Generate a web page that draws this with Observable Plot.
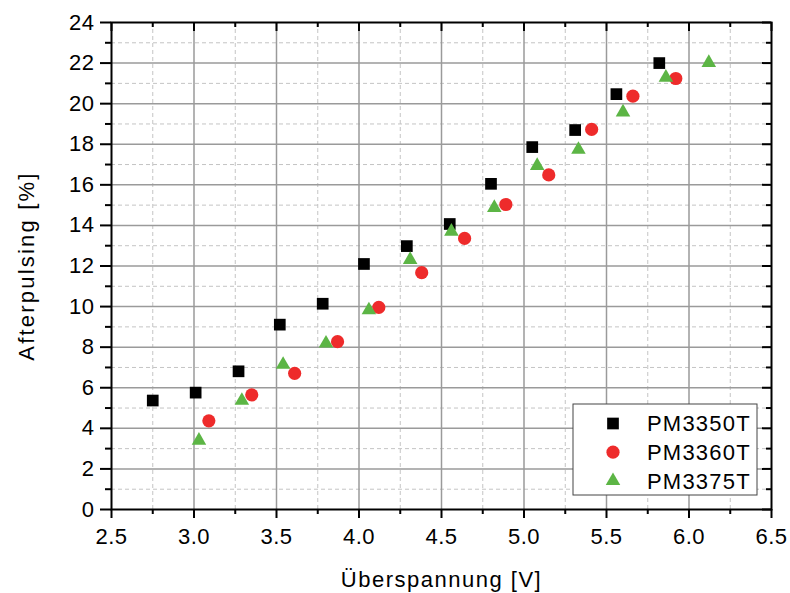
<!DOCTYPE html>
<html>
<head>
<meta charset="utf-8">
<script src="https://cdn.jsdelivr.net/npm/d3@7"></script>
<script src="https://cdn.jsdelivr.net/npm/@observablehq/plot@0.6"></script>
<style>
  html, body { margin: 0; padding: 0; background: #fff; }
  svg { font-family: "Liberation Sans", Arial, sans-serif; }
</style>
</head>
<body>
<div id="chart"></div>
<script>
const seriesNames = ["PM3350T", "PM3360T", "PM3375T"];
const seriesColors = ["#000000", "#ee2b2b", "#5cb545"];
const seriesSymbols = ["square", "circle", "triangle"];

const x3350 = [2.75, 3.01, 3.27, 3.52, 3.78, 4.03, 4.29, 4.55, 4.80, 5.05, 5.31, 5.56, 5.82];
const y3350 = [5.37, 5.76, 6.81, 9.11, 10.14, 12.10, 12.98, 14.07, 16.05, 17.86, 18.70, 20.47, 22.00];

const x3360 = [3.09, 3.35, 3.61, 3.87, 4.12, 4.38, 4.64, 4.89, 5.15, 5.41, 5.66, 5.92];
const y3360 = [4.37, 5.65, 6.71, 8.27, 9.96, 11.67, 13.36, 15.03, 16.49, 18.73, 20.37, 21.24];

const x3375 = [3.03, 3.29, 3.54, 3.80, 4.06, 4.31, 4.56, 4.82, 5.08, 5.33, 5.60, 5.86, 6.12];
const y3375 = [3.40, 5.37, 7.14, 8.19, 9.83, 12.31, 13.70, 14.87, 16.94, 17.74, 19.58, 21.29, 22.02];

const xMajor = [2.5, 3.0, 3.5, 4.0, 4.5, 5.0, 5.5, 6.0, 6.5];
const xMinor = [2.75, 3.25, 3.75, 4.25, 4.75, 5.25, 5.75, 6.25];
const yMajor = [0, 2, 4, 6, 8, 10, 12, 14, 16, 18, 20, 22, 24];
const yMinor = [1, 3, 5, 7, 9, 11, 13, 15, 17, 19, 21, 23];

const xLabel = "Überspannung [V]";
const yLabel = "Afterpulsing [%]";

const W = 790, H = 593;
const mL = 111, mR = 19, mT = 22, mB = 84;
const plotW = W - mL - mR, plotH = H - mT - mB;

const toRows = (xs, ys, k) => xs.map((x, i) => ({x, y: ys[i], s: k}));
const series = [toRows(x3350, y3350, 0), toRows(x3360, y3360, 1), toRows(x3375, y3375, 2)];
const dotR = [6.6, 6.6, 5.4];

const majW = 9, minW = 5, majL = 11;

const plot = Plot.plot({
  width: W, height: H,
  marginLeft: mL, marginRight: mR, marginTop: mT, marginBottom: mB,
  x: {domain: [2.5, 6.5], axis: null},
  y: {domain: [0, 24], axis: null},
  style: {fontFamily: "'Liberation Sans', Arial, sans-serif", background: "#fff"},
  marks: [
    Plot.ruleX(xMinor, {x: d => d, stroke: "#c4c4c4", strokeWidth: 1, strokeDasharray: "4,3"}),
    Plot.ruleY(yMinor, {y: d => d, stroke: "#c4c4c4", strokeWidth: 1, strokeDasharray: "4,3"}),
    Plot.ruleX(xMajor.slice(1, -1), {x: d => d, stroke: "#9a9a9a", strokeWidth: 1.5}),
    Plot.ruleY(yMajor.slice(1, -1), {y: d => d, stroke: "#9a9a9a", strokeWidth: 1.5}),
    ...series.map((rows, k) => Plot.dot(rows, {
      x: "x", y: "y", symbol: () => seriesSymbols[k], r: dotR[k],
      fill: seriesColors[k], stroke: "none"
    })),
    // bottom ticks (outward)
    Plot.tickX(xMajor, {x: d => d, insetTop: plotH, insetBottom: -majW, stroke: "#000", strokeWidth: 2}),
    Plot.tickX(xMinor, {x: d => d, insetTop: plotH, insetBottom: -minW, stroke: "#000", strokeWidth: 2}),
    // top ticks (inward)
    Plot.tickX(xMajor, {x: d => d, insetBottom: plotH - majW, stroke: "#000", strokeWidth: 2}),
    Plot.tickX(xMinor, {x: d => d, insetBottom: plotH - minW, stroke: "#000", strokeWidth: 2}),
    // left ticks (outward)
    Plot.tickY(yMajor, {y: d => d, insetRight: plotW, insetLeft: -majL, stroke: "#000", strokeWidth: 2}),
    Plot.tickY(yMinor, {y: d => d, insetRight: plotW, insetLeft: -minW - 1, stroke: "#000", strokeWidth: 2}),
    // right ticks (inward)
    Plot.tickY(yMajor, {y: d => d, insetLeft: plotW - majW, stroke: "#000", strokeWidth: 2}),
    Plot.tickY(yMinor, {y: d => d, insetLeft: plotW - minW, stroke: "#000", strokeWidth: 2}),
    Plot.frame({stroke: "#000", strokeWidth: 2}),
    // tick labels
    Plot.text(xMajor, {x: d => d, text: d => d.toFixed(1), frameAnchor: "bottom", lineAnchor: "middle", textAnchor: "middle", dy: 27, fontSize: 22, fill: "#000"}),
    Plot.text(yMajor, {y: d => d, text: d => String(d), frameAnchor: "left", lineAnchor: "middle", textAnchor: "end", dx: -17, fontSize: 22, fill: "#000"}),
    // axis titles
    Plot.text([xLabel], {text: d => d, frameAnchor: "bottom", lineAnchor: "middle", textAnchor: "middle", dy: 70, fontSize: 22, fill: "#000"}),
    Plot.text([yLabel], {text: d => d, frameAnchor: "left", lineAnchor: "middle", textAnchor: "middle", dx: -85, rotate: -90, fontSize: 22, fill: "#000"})
  ]
});

document.getElementById("chart").appendChild(plot);

const svg = d3.select(plot);
svg.selectAll("text").each(function() {
  const t = this.textContent;
  let ls = "0.5px";
  if (t === xLabel) ls = "1.5px";
  else if (t === yLabel) ls = "2.2px";
  d3.select(this).style("letter-spacing", ls);
});

// legend
const lg = svg.append("g").attr("transform", "translate(573,404)");
lg.append("rect").attr("width", 184).attr("height", 91)
  .attr("fill", "#fff").attr("stroke", "#444").attr("stroke-width", 1);
const symMap = {square: d3.symbolSquare, circle: d3.symbolCircle, triangle: d3.symbolTriangle};
seriesNames.forEach((name, k) => {
  const cy = 19.5 + k * 28.7;
  lg.append("path")
    .attr("transform", `translate(40,${cy})`)
    .attr("d", d3.symbol(symMap[seriesSymbols[k]], Math.PI * dotR[k] * dotR[k])())
    .attr("fill", seriesColors[k]);
  lg.append("text").attr("x", 74).attr("y", cy).attr("dy", "0.36em")
    .attr("text-anchor", "start")
    .style("font-size", "22px").style("letter-spacing", "1.2px")
    .attr("fill", "#000").text(name);
});
</script>
</body>
</html>
